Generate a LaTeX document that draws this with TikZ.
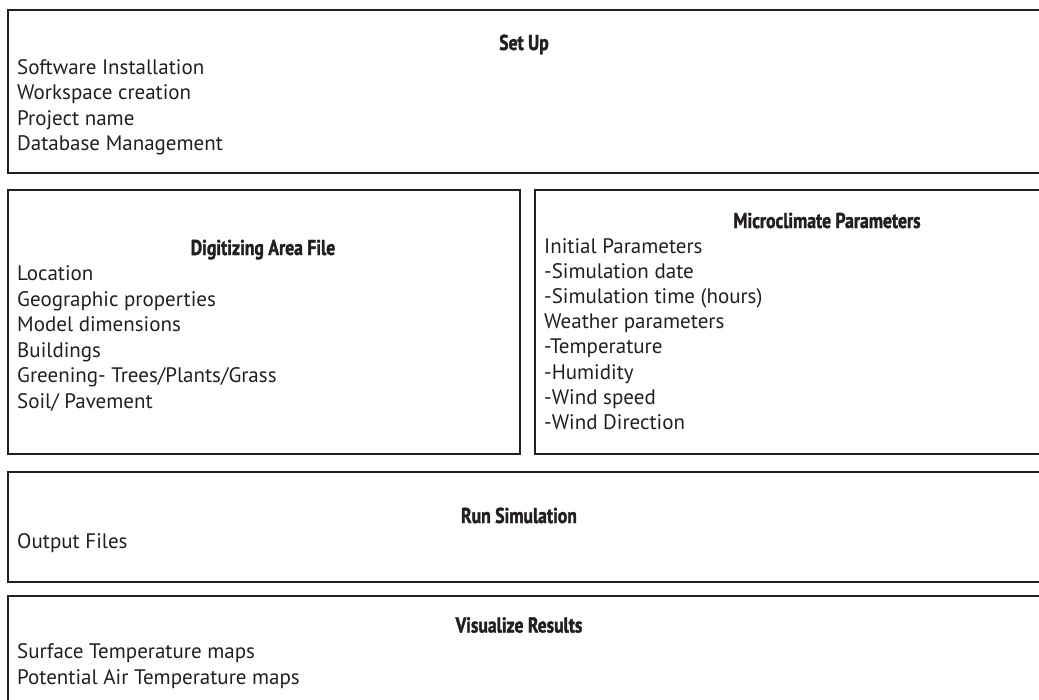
\documentclass[tikz,border=0pt]{standalone}
\usepackage{fontspec}
\setmainfont{PT Sans}
\newfontfamily\titlefont[FakeStretch=0.82,FakeBold=1.6]{PT Sans Bold}
\definecolor{ink}{HTML}{231F20}
\begin{document}
\begin{tikzpicture}[x=1pt,y=-1pt,
  panel/.style={draw=ink, line width=2.6pt},
  head/.style={font=\titlefont\fontsize{21.5}{21.5}\selectfont, text=ink, anchor=base, inner sep=0pt},
  item/.style={font=\fontsize{21}{21}\selectfont, text=ink, anchor=base west, inner sep=0pt}]
\useasboundingbox (0,0) rectangle (1039,699);
\clip (0,0) rectangle (1039,699);

% panels
\draw[panel] (8,10) rectangle (1060,173);
\draw[panel] (8,190) rectangle (520,454);
\draw[panel] (535,190) rectangle (1060,454);
\draw[panel] (8,472) rectangle (1060,582);
\draw[panel] (8,596) rectangle (1060,720);

% Set Up
\node[head] (setup) at (524,50) {Set Up};
\node[item] (s1) at (17,74) {Software Installation};
\node[item] (s2) at (17,99.5) {Workspace creation};
\node[item] (s3) at (17,125) {Project name};
\node[item] (s4) at (17,150.5) {Database Management};

% Digitizing Area File
\node[head] (dig) at (263,255) {Digitizing Area File};
\node[item] (d1) at (17,280.5) {Location};
\node[item] (d2) at (17,306) {Geographic properties};
\node[item] (d3) at (17,331.5) {Model dimensions};
\node[item] (d4) at (17,357) {Buildings};
\node[item] (d5) at (17,382.5) {Greening- Trees/Plants/Grass};
\node[item] (d6) at (17,408) {Soil/ Pavement};

% Microclimate Parameters
\node[head] (mic) at (827,228) {Microclimate Parameters};
\node[item] (m1) at (544,253) {Initial Parameters};
\node[item] (m2) at (544,278.2) {-Simulation date};
\node[item] (m3) at (544,303.4) {-Simulation time (hours)};
\node[item] (m4) at (544,328.6) {Weather parameters};
\node[item] (m5) at (544,353.8) {-Temperature};
\node[item] (m6) at (544,379) {-Humidity};
\node[item] (m7) at (544,404.2) {-Wind speed};
\node[item] (m8) at (544,429.4) {-Wind Direction};

% Run Simulation
\node[head] (run) at (519,523) {Run Simulation};
\node[item] (r1) at (17,548) {Output Files};

% Visualize Results
\node[head] (vis) at (519,632.5) {Visualize Results};
\node[item] (v1) at (17,658) {Surface Temperature maps};
\node[item] (v2) at (17,684) {Potential Air Temperature maps};
\end{tikzpicture}
\end{document}
